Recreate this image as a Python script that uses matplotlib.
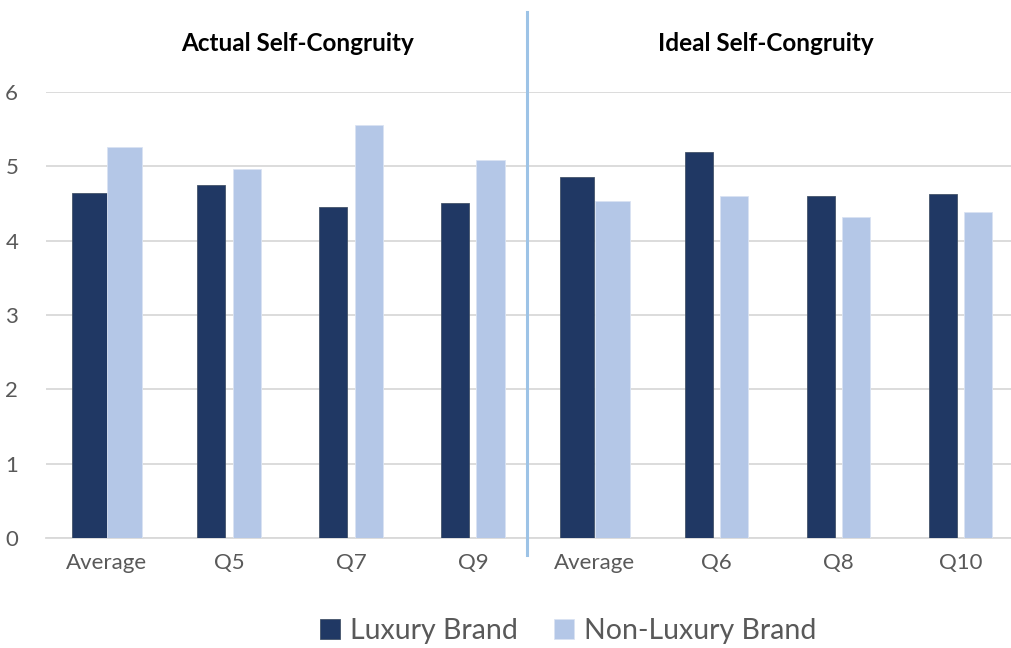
import matplotlib
matplotlib.use("Agg")
import matplotlib.pyplot as plt
import numpy as np

# Mean scores per item, luxury vs non-luxury brand
categories = ["Average", "Q5", "Q7", "Q9", "Average", "Q6", "Q8", "Q10"]
luxury = [4.64, 4.75, 4.46, 4.51, 4.86, 5.19, 4.60, 4.63]
non_luxury = [5.26, 4.96, 5.56, 5.09, 4.54, 4.60, 4.32, 4.39]
is_average = [True, False, False, False, True, False, False, False]
section_titles = ["Actual Self-Congruity", "Ideal Self-Congruity"]

LUX = "#203864"
NONLUX = "#b4c7e7"
GRID = "#d9d9d9"
TEXT = "#595959"

plt.rcParams["font.family"] = ["Lato", "DejaVu Sans"]

fig = plt.figure(figsize=(10.11, 6.48), dpi=100)
ax = fig.add_axes([0.0455, 0.1698, 0.965, 0.688])

x = np.arange(len(categories))
widths = np.where(is_average, 0.285, 0.23)
off = 0.145

ax.bar(x - off, luxury, width=widths, color=LUX, edgecolor="#44546a",
       linewidth=0.6, zorder=3, label="Luxury Brand")
ax.bar(x + off, non_luxury, width=widths, color=NONLUX, edgecolor="#dae3f3",
       linewidth=0.6, zorder=3, label="Non-Luxury Brand")

ax.set_xlim(-0.5, len(categories) - 0.5)
ax.set_ylim(0, 6)
ax.set_yticks(range(0, 7))
ax.set_xticks(x)
ax.set_xticklabels(categories)
ax.yaxis.grid(True, color=GRID, linewidth=1.3, zorder=0)
ax.set_axisbelow(True)
ax.tick_params(axis="both", length=0, labelsize=16, labelcolor=TEXT)
ax.tick_params(axis="x", pad=11)
ax.tick_params(axis="y", pad=20)
for side in ["top", "right", "left"]:
    ax.spines[side].set_visible(False)
ax.spines["bottom"].set_color(GRID)
ax.spines["bottom"].set_linewidth(1.3)

# Divider between actual and ideal self-congruity
ax.plot([3.445, 3.445], [-0.23, 7.08], color="#9dc3e6", linewidth=2.2,
        clip_on=False, zorder=4)

fig.text(0.294, 0.933, section_titles[0], ha="center", va="center",
         fontsize=17.5, fontweight="bold", color="black")
fig.text(0.757, 0.933, section_titles[1], ha="center", va="center",
         fontsize=17.5, fontweight="bold", color="black")

ax.legend(loc="center", bbox_to_anchor=(0.562, 0.027), bbox_transform=fig.transFigure,
          ncol=2, frameon=False, fontsize=20.5, labelcolor=TEXT,
          handlelength=0.7, handleheight=0.7, handletextpad=0.35, columnspacing=1.3)

fig.savefig("out.png", dpi=100)
